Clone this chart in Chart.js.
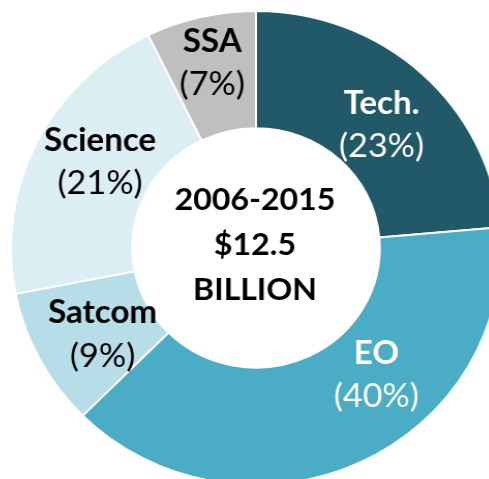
<!DOCTYPE html>
<html>
<head>
<meta charset="utf-8">
<script src="https://cdn.jsdelivr.net/npm/chart.js@4/dist/chart.umd.min.js"></script>
<style>
    body { margin: 0; width: 489px; height: 479px; overflow: hidden; background: #fff; }
    #grafico { position: absolute; left: 14px; top: 6px; transform: scaleX(1.034); transform-origin: center; }
</style>
</head>
<body>
<canvas id="grafico" width="484" height="484"></canvas>
<script>
// Datos (porcentaje de la inversion 2006-2015)
const categorias = ['Tech.', 'EO', 'Satcom', 'Science', 'SSA'];
const valores = [23.6, 38.9, 9.4, 20.85, 7.25];
const etiquetasPct = ['(23%)', '(40%)', '(9%)', '(21%)', '(7%)'];
const textoCentro = ['2006-2015', '$12.5', 'BILLION'];

const colores = ['#215968', '#4bacc6', '#b7dee8', '#daeef3', '#bfbfbf'];
const coloresTexto = ['#fff', '#fff', '#000', '#000', '#000'];
// ajuste de cada etiqueta respecto al centro del arco
const desplazamientos = [[1, 8], [41, -35], [9, 2], [9, -7], [-2, -12]];

const FUENTE = 'Lato, "Open Sans", sans-serif';

const etiquetasPlugin = {
    id: 'etiquetas',
    afterDraw(chart) {
        const ctx = chart.ctx;
        const arcos = chart.getDatasetMeta(0).data;
        ctx.save();
        ctx.textAlign = 'center';
        ctx.textBaseline = 'middle';
        arcos.forEach((arco, i) => {
            const p = arco.getCenterPoint();
            const x = p.x + desplazamientos[i][0];
            const y = p.y + desplazamientos[i][1];
            ctx.fillStyle = coloresTexto[i];
            ctx.font = 'bold 32px ' + FUENTE;
            ctx.fillText(categorias[i], x, y - 21);
            ctx.font = '33px ' + FUENTE;
            ctx.fillText(etiquetasPct[i], x, y + 22);
        });

        // texto del centro
        const cx = arcos[0].x - 1;
        const cy = arcos[0].y;
        ctx.fillStyle = '#000';
        ctx.font = 'bold 31px ' + FUENTE;
        textoCentro.forEach((t, k) => {
            ctx.fillText(t, cx, cy + (k - 1) * 45 - 3);
        });
        ctx.restore();
    }
};

new Chart(document.getElementById('grafico').getContext('2d'), {
    type: 'doughnut',
    data: {
        labels: categorias,
        datasets: [{
                data: valores,
                backgroundColor: colores,
                borderColor: '#fff',
                borderWidth: 2
            }]
    },
    options: {
        responsive: false,
        animation: false,
        cutout: '50.5%',
        layout: { padding: 4 },
        plugins: {
            legend: { display: false },
            tooltip: { enabled: false }
        }
    },
    plugins: [etiquetasPlugin]
});
</script>
</body>
</html>
